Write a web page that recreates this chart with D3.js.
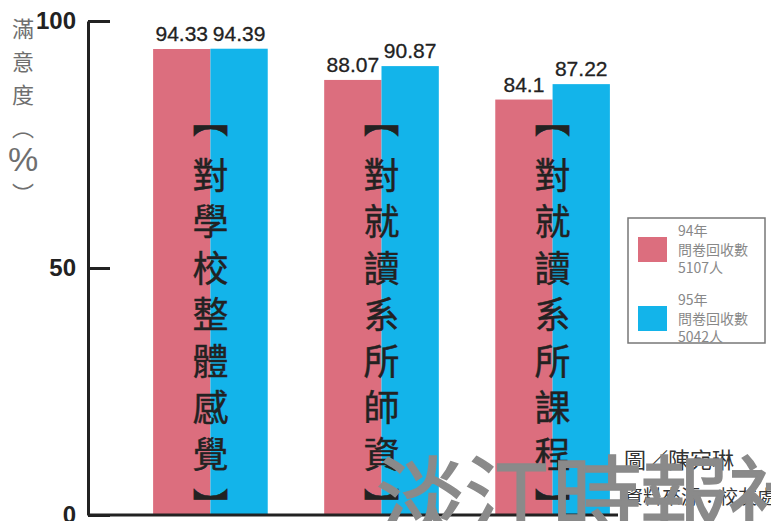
<!DOCTYPE html>
<html>
<head>
<meta charset="utf-8">
<script src="https://cdn.jsdelivr.net/npm/d3@7"></script>
<style>
  body { margin: 0; background: #fff; }
  svg { display: block; }
</style>
</head>
<body>
<div id="chart"></div>
<script>
// data
const categories = ["對學校整體感覺", "對就讀系所師資", "對就讀系所課程"];
const seriesKeys = ["94年", "95年"];
const values94 = [94.33, 88.07, 84.1];
const values95 = [94.39, 90.87, 87.22];
const yTicks = [0, 50, 100];
const yLabel = ["滿", "意", "度", "︵", "%", "︶"];
const legendLines = [["94年", "問卷回收數", "5107人"], ["95年", "問卷回收數", "5042人"]];
const credits = ["圖／陳宛琳", "資料來源：校友處"];
const watermark = "淡江時報社";

const width = 771, height = 521;
const colors = {"94年": "#dc6e7e", "95年": "#13b4ea"};
const cjk = "'Noto Sans CJK TC', 'Noto Sans CJK SC', sans-serif";

const svg = d3.select("#chart").append("svg")
    .attr("width", width)
    .attr("height", height);

const y = d3.scaleLinear().domain([0, 100]).range([515, 21]);
const x0 = d3.scaleBand().domain(categories).range([136, 627])
    .paddingInner(0.33).paddingOuter(0.1);
const x1 = d3.scaleBand().domain(seriesKeys).range([0, x0.bandwidth()]);

const rows = categories.map((c, i) => ({cat: c, vals: [
    {key: "94年", value: values94[i]},
    {key: "95年", value: values95[i]}
]}));

// bars
const groups = svg.selectAll(".grp").data(rows).enter().append("g")
    .attr("class", "grp")
    .attr("transform", d => `translate(${x0(d.cat)},0)`);

groups.selectAll("rect").data(d => d.vals).enter().append("rect")
    .attr("x", d => x1(d.key))
    .attr("y", d => y(d.value))
    .attr("width", x1.bandwidth())
    .attr("height", d => y(0) - y(d.value))
    .style("fill", d => colors[d.key]);

groups.selectAll(".val").data(d => d.vals).enter().append("text")
    .attr("class", "val")
    .attr("x", d => x1(d.key) + x1.bandwidth() / 2)
    .attr("y", d => y(d.value) - 8)
    .attr("text-anchor", "middle")
    .style("font-family", "'Liberation Sans', Arial, sans-serif")
    .style("font-size", "21px")
    .style("fill", "#222")
    .style("stroke", "#222")
    .style("stroke-width", 0.3)
    .text(d => d.value);

// vertical category labels, drawn char by char
groups.each(function(d) {
    const chars = ["︻"].concat(Array.from(d.cat)).concat(["︼"]);
    const n = chars.length;
    d3.select(this).selectAll(".cat").data(chars).enter().append("text")
        .attr("class", "cat")
        .attr("x", x0.bandwidth() / 2)
        .attr("y", (c, i) => 126 + i * 46.5 + (i === 0 ? -9 : i === n - 1 ? 6 : 0))
        .attr("text-anchor", "middle")
        .attr("dominant-baseline", "central")
        .style("font-family", cjk)
        .style("font-size", "36px")
        .style("fill", "#222")
        .style("stroke", "#222")
        .style("stroke-width", 0.4)
        .text(c => c);
});

// y axis
const yAxis = svg.append("g")
    .attr("transform", "translate(88,0)")
    .call(d3.axisLeft(y).tickValues(yTicks).tickSize(-22).tickSizeOuter(0).tickPadding(12));
yAxis.select(".domain").style("stroke", "#222").style("stroke-width", 3);
yAxis.selectAll(".tick line").style("stroke", "#222").style("stroke-width", 3);
yAxis.selectAll(".tick text")
    .style("font-family", "'Liberation Sans Narrow', sans-serif")
    .style("font-weight", "bold")
    .style("font-size", "24px")
    .style("fill", "#222");

// baseline
svg.append("line")
    .attr("x1", 88).attr("x2", x0.range()[1] - 9)
    .attr("y1", y(0)).attr("y2", y(0))
    .style("stroke", "#222").style("stroke-width", 3);

// y label, vertical
svg.selectAll(".ylab").data(yLabel).enter().append("text")
    .attr("class", "ylab")
    .attr("x", 23)
    .attr("y", (c, i) => 27 + i * 33)
    .attr("text-anchor", "middle")
    .attr("dominant-baseline", "central")
    .style("font-family", c => c === "%" ? "'Liberation Sans Narrow', sans-serif" : cjk)
    .style("font-size", c => c === "%" ? "34px" : "22px")
    .style("fill", "#6f6f6f")
    .text(c => c);

// legend
const legend = svg.append("g").attr("transform", "translate(628,218)");
legend.append("rect")
    .attr("width", 137).attr("height", 125)
    .style("fill", "#fff").style("stroke", "#777").style("stroke-width", 1.5);
seriesKeys.forEach((k, i) => {
    const g = legend.append("g").attr("transform", `translate(0,${i * 69})`);
    g.append("rect")
        .attr("x", 10).attr("y", 19)
        .attr("width", 29).attr("height", 25)
        .style("fill", colors[k]);
    g.selectAll("text").data(legendLines[i]).enter().append("text")
        .attr("x", 50)
        .attr("y", (t, j) => 12 + j * 18.5)
        .attr("dominant-baseline", "central")
        .style("font-family", cjk)
        .style("font-size", "14px")
        .style("fill", "#888")
        .text(t => t);
});

// credits
svg.selectAll(".credit").data(credits).enter().append("text")
    .attr("class", "credit")
    .attr("x", 624)
    .attr("y", (t, i) => 458 + i * 37)
    .attr("dominant-baseline", "central")
    .style("font-family", cjk)
    .style("font-size", (t, i) => i === 0 ? "22px" : "19px")
    .style("fill", "#333")
    .text(t => t);

// watermark
svg.append("text")
    .attr("x", 376)
    .attr("y", 531)
    .attr("letter-spacing", -2)
    .style("font-family", cjk)
    .style("font-size", "90px")
    .style("fill", "#8a8a8a")
    .style("stroke", "#8a8a8a")
    .style("stroke-width", 1.5)
    .text(watermark);
</script>
</body>
</html>
